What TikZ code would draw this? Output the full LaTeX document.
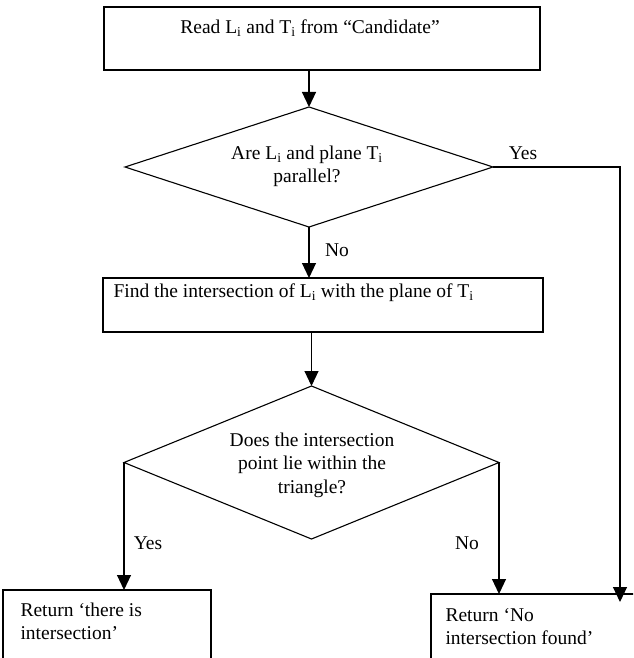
\documentclass[tikz,border=0pt]{standalone}
\usepackage{fontspec}
\setmainfont{Liberation Serif}
\usetikzlibrary{arrows.meta,shapes.geometric}
\begin{document}
\begin{tikzpicture}[x=1pt,y=-1pt,line width=1.1pt,
  box/.style={draw,rectangle,inner sep=0pt,outer sep=0pt},
  dia/.style={draw,diamond,inner sep=0pt,outer sep=0pt},
  txt/.style={font=\fontsize{19.5}{23.5}\selectfont,inner sep=0pt,align=center},
  ltxt/.style={font=\fontsize{19.5}{23.5}\selectfont,inner sep=0pt,align=left},
  lbl/.style={font=\fontsize{19.5}{23.5}\selectfont,inner sep=0pt},
  arr/.style={-{Triangle[length=15pt,width=14pt]}}]
\useasboundingbox (0,0) rectangle (633,658);
\clip (0,0) rectangle (633,658);
% shapes
\node[box,minimum width=436pt,minimum height=63pt] (box1) at (322,38.5) {};
\node[dia,minimum width=368pt,minimum height=120pt] (d1) at (309,167) {};
\node[box,minimum width=440pt,minimum height=54pt] (box2) at (323,305) {};
\node[dia,minimum width=375pt,minimum height=153pt] (d2) at (311.5,462.5) {};
\node[box,minimum width=208pt,minimum height=80pt] (box3) at (107,630) {};
\node[box,minimum width=220pt,minimum height=84pt] (box4) at (541,636) {};
% texts
\node[txt] (t1) at (310,28) {Read L\textsubscript{i} and T\textsubscript{i} from “Candidate”};
\node[txt] (td1) at (307,166.5) {Are L\textsubscript{i} and plane T\textsubscript{i}\\parallel?};
\node[lbl,anchor=west] (t2) at (113,293) {Find the intersection of L\textsubscript{i} with the plane of T\textsubscript{i}};
\node[txt] (td2) at (312,465) {Does the intersection\\point lie within the\\triangle?};
\node[ltxt,anchor=west] (t3) at (20,621.5) {Return ‘there is\\intersection’};
\node[ltxt,anchor=west] (t4) at (445,626.5) {Return ‘No\\intersection found’};
% labels
\node[lbl] (yes1) at (523,153) {Yes};
\node[lbl] (no1) at (337,250) {No};
\node[lbl] (yes2) at (148,543) {Yes};
\node[lbl] (no2) at (467,543) {No};
% connectors
\coordinate (c1) at (620,167);
\draw[arr] (d1.north |- box1.south) -- (d1.north);
\draw[arr] (d1.south) -- (d1.south |- box2.north);
\draw[arr] (d2.north |- box2.south) -- (d2.north);
\draw[arr] (d1.east) -- (c1) -- ([yshift=-8pt]c1 |- box4.north);
\draw[arr] (d2.west) -- (d2.west |- box3.north);
\draw[arr] (d2.east) -- (d2.east |- box4.north);
\end{tikzpicture}
\end{document}
